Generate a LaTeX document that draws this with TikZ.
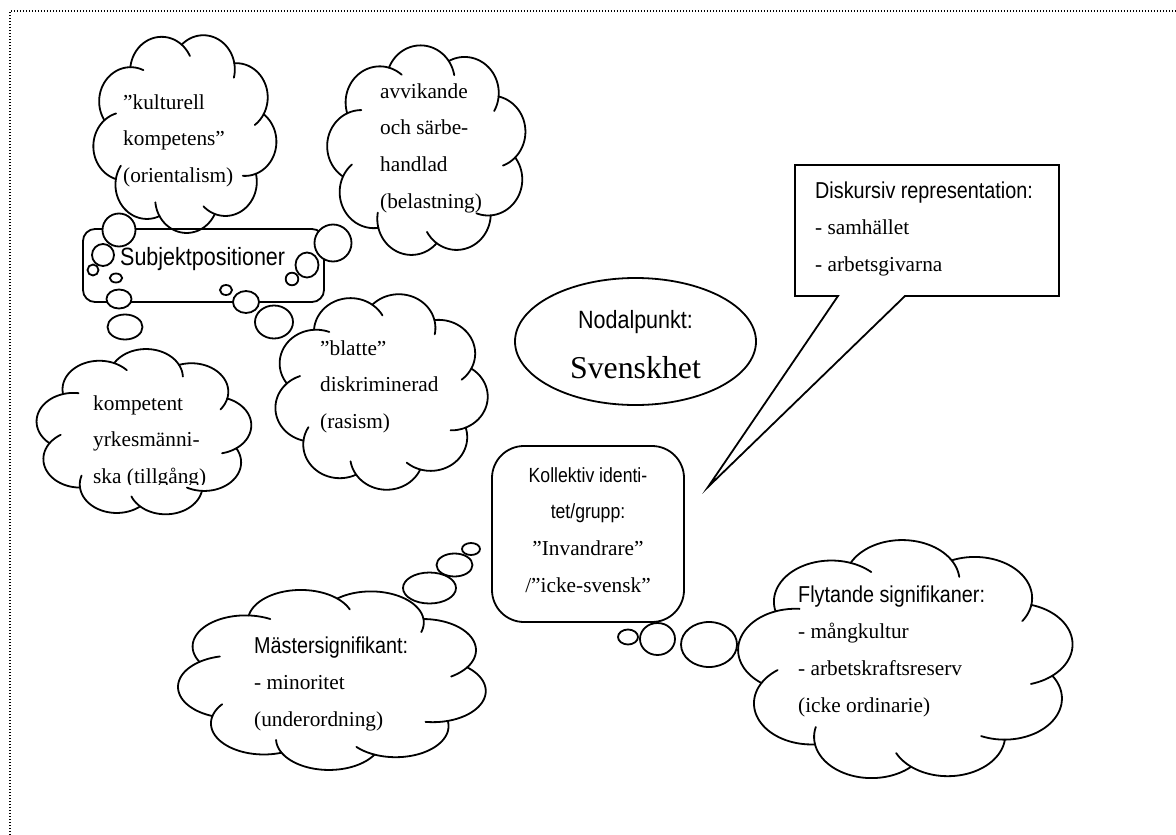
\documentclass[tikz,border=0pt]{standalone}
\usepackage{fontspec}
\setmainfont{Liberation Serif}
\setsansfont{Liberation Sans}[FakeStretch=0.86]
\newcommand\sfbig{\fontsize{25}{36.8}\sffamily\selectfont}
\newcommand\sfmid{\fontsize{23}{36.8}\sffamily\selectfont}
\newcommand\sfsml{\fontsize{20.5}{36.8}\sffamily\selectfont}
\newcommand\rmtxt{\fontsize{21.3}{36.8}\rmfamily\selectfont}
\newcommand\wcloud[5]{%
  \foreach \ci in {0,...,8}{%
    \pgfmathsetmacro\cth{#5+40*\ci}%
    \pgfmathsetmacro\cta{\cth-61.6}%
    \pgfmathsetmacro\ctb{\cth+86}%
    \draw[cloudline] plot[variable=\x,domain=\cta:\ctb,samples=40]
      ({#1+#3*(0.66*cos(\cth)+0.34*cos(\x))},{#2+#4*(0.66*sin(\cth)+0.34*sin(\x))});
  }}
\begin{document}
\begin{tikzpicture}[x=1pt,y=-1pt,
  cloudline/.style={line width=1.8pt,line join=round,line cap=round},
  shapeline/.style={line width=1.8pt,line join=miter},
  bub/.style={draw,line width=1.8pt,fill=white},
  border/.style={line width=1.3pt,dash pattern=on 1.3pt off 1.7pt},
  txt/.style={inner sep=0pt,font=\rmtxt}]
\useasboundingbox (0,0) rectangle (1176,835);
\draw[border] (10,850) -- (10,11) -- (1190,11);
% clouds
\wcloud{184.5}{132.5}{92.5}{100.5}{8}
\wcloud{427.5}{151}{100.5}{106}{24}
\wcloud{380.5}{391}{107.5}{99}{5}
\wcloud{143.5}{433}{108.5}{84}{32}
\wcloud{332.5}{678.5}{155.5}{91.5}{12}
\wcloud{906}{661}{169}{121}{28}
% boxes
\draw[shapeline,rounded corners=12pt] (83,229) rectangle (324,302);
\draw[shapeline] (635.5,341.5) ellipse [x radius=120.5,y radius=63.5];
\draw[shapeline] (795,165) -- (1059,165) -- (1059,296) -- (905,296) -- (708,487) -- (838,296) -- (795,296) -- cycle;
\draw[shapeline,rounded corners=32pt] (492,446) rectangle (684,622);
% bubbles
\draw[bub] (119,230) ellipse [x radius=16.5,y radius=16.5];
\draw[bub] (103,255) ellipse [x radius=11,y radius=11];
\draw[bub] (93,270) ellipse [x radius=5.5,y radius=5.5];
\draw[bub] (116,278) ellipse [x radius=6.2,y radius=4.5];
\draw[bub] (119,299) ellipse [x radius=12.5,y radius=9.5];
\draw[bub] (125,327) ellipse [x radius=17.5,y radius=12.5];
\draw[bub] (333,243) ellipse [x radius=18.5,y radius=18.5];
\draw[bub] (307,265) ellipse [x radius=11.5,y radius=12.5];
\draw[bub] (292,279) ellipse [x radius=6.3,y radius=6.3];
\draw[bub] (226,290) ellipse [x radius=6,y radius=5];
\draw[bub] (246,302) ellipse [x radius=13,y radius=11];
\draw[bub] (274,322) ellipse [x radius=19,y radius=16.5];
\draw[bub] (429.5,588) ellipse [x radius=26.5,y radius=15.5];
\draw[bub] (454.5,565) ellipse [x radius=18,y radius=11.5];
\draw[bub] (471,549) ellipse [x radius=9,y radius=6];
\draw[bub] (628,637) ellipse [x radius=10,y radius=7.5];
\draw[bub] (657.5,639) ellipse [x radius=17.5,y radius=16];
\draw[bub] (709,644.5) ellipse [x radius=28,y radius=22.5];
% texts
\node[txt,anchor=base west] (kulturell) at (123,109)
  {\begin{tabular}[t]{@{}l@{}}”kulturell\\kompetens”\\(orientalism)\end{tabular}};
\node[txt,anchor=base west] (avvikande) at (380,98)
  {\begin{tabular}[t]{@{}l@{}}avvikande\\och särbe-\\handlad\\(belastning)\end{tabular}};
\node[txt,anchor=base west] (blatte) at (320,355)
  {\begin{tabular}[t]{@{}l@{}}”blatte”\\diskriminerad\\(rasism)\end{tabular}};
\begin{scope}
\clip (0,0) rectangle (1176,484);
\node[txt,anchor=base west] (kompetent) at (93,410)
  {\begin{tabular}[t]{@{}l@{}}kompetent\\yrkesmänni-\\ska (tillgång)\end{tabular}};
\end{scope}
\node[txt,anchor=base west,font=\sfbig] (subjekt) at (120,265) {Subjektpositioner};
\node[txt,anchor=base,font=\sfbig] (nodal) at (635.5,328) {Nodalpunkt:};
\node[txt,anchor=base,font=\fontsize{31.8}{38}\rmfamily\selectfont] (svensk) at (635.5,378) {Svenskhet};
\node[txt,anchor=base west] (diskursiv) at (815,198)
  {\begin{tabular}[t]{@{}l@{}}{\sfmid Diskursiv representation:}\\- samhället\\- arbetsgivarna\end{tabular}};
\node[txt,anchor=base] (kollektiv) at (588,482)
  {\begin{tabular}[t]{@{}c@{}}{\sfsml Kollektiv identi-}\\{\sfsml tet/grupp:}\\”Invandrare”\\/”icke-svensk”\end{tabular}};
\node[txt,anchor=base west] (master) at (254,653)
  {\begin{tabular}[t]{@{}l@{}}{\sfmid Mästersignifikant:}\\- minoritet\\(underordning)\end{tabular}};
\node[txt,anchor=base west] (flytande) at (798,602)
  {\begin{tabular}[t]{@{}l@{}}{\sfmid Flytande signifikaner:}\\- mångkultur\\- arbetskraftsreserv\\(icke ordinarie)\end{tabular}};
\end{tikzpicture}
\end{document}
